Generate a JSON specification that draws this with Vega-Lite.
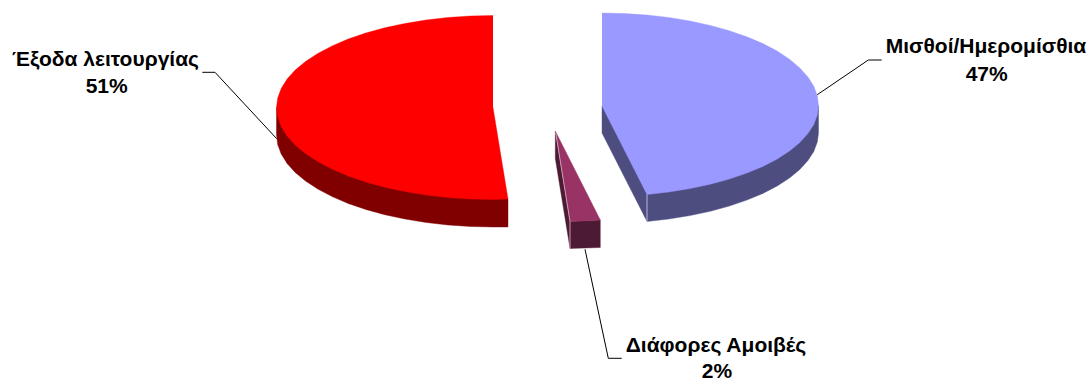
{
  "$schema": "https://vega.github.io/schema/vega-lite/v6.json",
  "autosize": {"type": "none"},
  "width": 1090,
  "height": 380,
  "padding": 0,
  "background": "white",
  "config": {"view": {"stroke": null}},
  "datasets": {
    "outlines": [
      {"part":"Έξοδα side","face":"Έξοδα dark","i":1,"x":276.5,"y":107.5},{"part":"Έξοδα side","face":"Έξοδα dark","i":2,"x":276.5,"y":135},{"part":"Έξοδα side","face":"Έξοδα dark","i":3,"x":277.7,"y":144.6},{"part":"Έξοδα side","face":"Έξοδα dark","i":4,"x":281.2,"y":154.1},{"part":"Έξοδα side","face":"Έξοδα dark","i":5,"x":287.1,"y":163.4},{"part":"Έξοδα side","face":"Έξοδα dark","i":6,"x":295.2,"y":172.4},{"part":"Έξοδα side","face":"Έξοδα dark","i":7,"x":305.5,"y":181},{"part":"Έξοδα side","face":"Έξοδα dark","i":8,"x":317.8,"y":189.1},{"part":"Έξοδα side","face":"Έξοδα dark","i":9,"x":332.1,"y":196.6},{"part":"Έξοδα side","face":"Έξοδα dark","i":10,"x":348.1,"y":203.4},{"part":"Έξοδα side","face":"Έξοδα dark","i":11,"x":365.7,"y":209.4},{"part":"Έξοδα side","face":"Έξοδα dark","i":12,"x":384.75,"y":214.7},{"part":"Έξοδα side","face":"Έξοδα dark","i":13,"x":404.9,"y":219},{"part":"Έξοδα side","face":"Έξοδα dark","i":14,"x":426.1,"y":222.5},{"part":"Έξοδα side","face":"Έξοδα dark","i":15,"x":448,"y":225},{"part":"Έξοδα side","face":"Έξοδα dark","i":16,"x":470.4,"y":226.5},{"part":"Έξοδα side","face":"Έξοδα dark","i":17,"x":493,"y":227},{"part":"Έξοδα side","face":"Έξοδα dark","i":18,"x":508,"y":227},{"part":"Έξοδα side","face":"Έξοδα dark","i":19,"x":508,"y":199},

      {"part":"Μισθοί side","face":"Μισθοί dark","i":1,"x":818.5,"y":105.5},{"part":"Μισθοί side","face":"Μισθοί dark","i":2,"x":818.5,"y":133},{"part":"Μισθοί side","face":"Μισθοί dark","i":3,"x":817.3,"y":142},{"part":"Μισθοί side","face":"Μισθοί dark","i":4,"x":813.8,"y":151.4},{"part":"Μισθοί side","face":"Μισθοί dark","i":5,"x":807.9,"y":160.6},{"part":"Μισθοί side","face":"Μισθοί dark","i":6,"x":799.8,"y":169.5},{"part":"Μισθοί side","face":"Μισθοί dark","i":7,"x":789.5,"y":178},{"part":"Μισθοί side","face":"Μισθοί dark","i":8,"x":777.2,"y":186},{"part":"Μισθοί side","face":"Μισθοί dark","i":9,"x":762.9,"y":193.4},{"part":"Μισθοί side","face":"Μισθοί dark","i":10,"x":746.9,"y":200.1},{"part":"Μισθοί side","face":"Μισθοί dark","i":11,"x":729.3,"y":206.1},{"part":"Μισθοί side","face":"Μισθοί dark","i":12,"x":710.25,"y":211.3},{"part":"Μισθοί side","face":"Μισθοί dark","i":13,"x":690.1,"y":215.6},{"part":"Μισθοί side","face":"Μισθοί dark","i":14,"x":668.9,"y":219},{"part":"Μισθοί side","face":"Μισθοί dark","i":15,"x":647,"y":221.5},{"part":"Μισθοί side","face":"Μισθοί dark","i":16,"x":602,"y":133},{"part":"Μισθοί side","face":"Μισθοί dark","i":17,"x":602,"y":106},

      {"part":"Διάφορες left","face":"Διάφορες dark","i":1,"x":555.3,"y":131},{"part":"Διάφορες left","face":"Διάφορες dark","i":2,"x":555.3,"y":158.5},{"part":"Διάφορες left","face":"Διάφορες dark","i":3,"x":570,"y":248.5},{"part":"Διάφορες left","face":"Διάφορες dark","i":4,"x":600.3,"y":247.5},{"part":"Διάφορες left","face":"Διάφορες dark","i":5,"x":600.3,"y":220},{"part":"Διάφορες left","face":"Διάφορες dark","i":6,"x":570,"y":221.5},

      {"part":"Έξοδα top","face":"Έξοδα","i":1,"x":493,"y":15.5},{"part":"Έξοδα top","face":"Έξοδα","i":2,"x":470.4,"y":16},{"part":"Έξοδα top","face":"Έξοδα","i":3,"x":448,"y":17.5},{"part":"Έξοδα top","face":"Έξοδα","i":4,"x":426.1,"y":20},{"part":"Έξοδα top","face":"Έξοδα","i":5,"x":404.9,"y":23.5},{"part":"Έξοδα top","face":"Έξοδα","i":6,"x":384.75,"y":27.8},{"part":"Έξοδα top","face":"Έξοδα","i":7,"x":365.7,"y":33.1},{"part":"Έξοδα top","face":"Έξοδα","i":8,"x":348.1,"y":39.1},{"part":"Έξοδα top","face":"Έξοδα","i":9,"x":332.1,"y":45.9},{"part":"Έξοδα top","face":"Έξοδα","i":10,"x":317.8,"y":53.4},{"part":"Έξοδα top","face":"Έξοδα","i":11,"x":305.5,"y":61.5},{"part":"Έξοδα top","face":"Έξοδα","i":12,"x":295.2,"y":70.1},{"part":"Έξοδα top","face":"Έξοδα","i":13,"x":287.1,"y":79.1},{"part":"Έξοδα top","face":"Έξοδα","i":14,"x":281.2,"y":88.4},{"part":"Έξοδα top","face":"Έξοδα","i":15,"x":277.7,"y":97.9},{"part":"Έξοδα top","face":"Έξοδα","i":16,"x":276.5,"y":107.5},{"part":"Έξοδα top","face":"Έξοδα","i":17,"x":277.7,"y":117.1},{"part":"Έξοδα top","face":"Έξοδα","i":18,"x":281.2,"y":126.6},{"part":"Έξοδα top","face":"Έξοδα","i":19,"x":287.1,"y":135.9},{"part":"Έξοδα top","face":"Έξοδα","i":20,"x":295.2,"y":144.9},{"part":"Έξοδα top","face":"Έξοδα","i":21,"x":305.5,"y":153.5},{"part":"Έξοδα top","face":"Έξοδα","i":22,"x":317.8,"y":161.6},{"part":"Έξοδα top","face":"Έξοδα","i":23,"x":332.1,"y":169.1},{"part":"Έξοδα top","face":"Έξοδα","i":24,"x":348.1,"y":175.9},{"part":"Έξοδα top","face":"Έξοδα","i":25,"x":365.7,"y":181.9},{"part":"Έξοδα top","face":"Έξοδα","i":26,"x":384.75,"y":187.2},{"part":"Έξοδα top","face":"Έξοδα","i":27,"x":404.9,"y":191.5},{"part":"Έξοδα top","face":"Έξοδα","i":28,"x":426.1,"y":195},{"part":"Έξοδα top","face":"Έξοδα","i":29,"x":448,"y":197.5},{"part":"Έξοδα top","face":"Έξοδα","i":30,"x":470.4,"y":199},{"part":"Έξοδα top","face":"Έξοδα","i":31,"x":493,"y":199.5},{"part":"Έξοδα top","face":"Έξοδα","i":32,"x":508,"y":199},{"part":"Έξοδα top","face":"Έξοδα","i":33,"x":493,"y":107.5},

      {"part":"Μισθοί top","face":"Μισθοί","i":1,"x":602,"y":13},{"part":"Μισθοί top","face":"Μισθοί","i":2,"x":624.6,"y":13.5},{"part":"Μισθοί top","face":"Μισθοί","i":3,"x":647,"y":15},{"part":"Μισθοί top","face":"Μισθοί","i":4,"x":668.9,"y":17.5},{"part":"Μισθοί top","face":"Μισθοί","i":5,"x":690.1,"y":21},{"part":"Μισθοί top","face":"Μισθοί","i":6,"x":710.25,"y":25.4},{"part":"Μισθοί top","face":"Μισθοί","i":7,"x":729.3,"y":30.7},{"part":"Μισθοί top","face":"Μισθοί","i":8,"x":746.9,"y":36.8},{"part":"Μισθοί top","face":"Μισθοί","i":9,"x":762.9,"y":43.6},{"part":"Μισθοί top","face":"Μισθοί","i":10,"x":777.2,"y":51.1},{"part":"Μισθοί top","face":"Μισθοί","i":11,"x":789.5,"y":59.25},{"part":"Μισθοί top","face":"Μισθοί","i":12,"x":799.8,"y":67.9},{"part":"Μισθοί top","face":"Μισθοί","i":13,"x":807.9,"y":76.9},{"part":"Μισθοί top","face":"Μισθοί","i":14,"x":813.8,"y":86.3},{"part":"Μισθοί top","face":"Μισθοί","i":15,"x":817.3,"y":95.8},{"part":"Μισθοί top","face":"Μισθοί","i":16,"x":818.5,"y":105.5},{"part":"Μισθοί top","face":"Μισθοί","i":17,"x":817.3,"y":115},{"part":"Μισθοί top","face":"Μισθοί","i":18,"x":813.8,"y":124.4},{"part":"Μισθοί top","face":"Μισθοί","i":19,"x":807.9,"y":133.6},{"part":"Μισθοί top","face":"Μισθοί","i":20,"x":799.8,"y":142.5},{"part":"Μισθοί top","face":"Μισθοί","i":21,"x":789.5,"y":151},{"part":"Μισθοί top","face":"Μισθοί","i":22,"x":777.2,"y":159},{"part":"Μισθοί top","face":"Μισθοί","i":23,"x":762.9,"y":166.4},{"part":"Μισθοί top","face":"Μισθοί","i":24,"x":746.9,"y":173.1},{"part":"Μισθοί top","face":"Μισθοί","i":25,"x":729.3,"y":179.1},{"part":"Μισθοί top","face":"Μισθοί","i":26,"x":710.25,"y":184.3},{"part":"Μισθοί top","face":"Μισθοί","i":27,"x":690.1,"y":188.6},{"part":"Μισθοί top","face":"Μισθοί","i":28,"x":668.9,"y":192},{"part":"Μισθοί top","face":"Μισθοί","i":29,"x":647,"y":194.5},{"part":"Μισθοί top","face":"Μισθοί","i":30,"x":602,"y":106},

      {"part":"Διάφορες top","face":"Διάφορες","i":1,"x":555.3,"y":131},{"part":"Διάφορες top","face":"Διάφορες","i":2,"x":600.3,"y":220},{"part":"Διάφορες top","face":"Διάφορες","i":3,"x":585,"y":221},{"part":"Διάφορες top","face":"Διάφορες","i":4,"x":570,"y":221.5}
    ],
    "edges": [
      {"edge":"Μισθοί highlight","tone":"blue","i":1,"x":647,"y":194.5},{"edge":"Μισθοί highlight","tone":"blue","i":2,"x":647,"y":221.5},
      {"edge":"Διάφορες highlight","tone":"plum","i":1,"x":555.8,"y":133},{"edge":"Διάφορες highlight","tone":"plum","i":2,"x":570,"y":221.5},{"edge":"Διάφορες highlight","tone":"plum","i":3,"x":570,"y":248.5}
    ],
    "leaders": [
      {"slice":"Έξοδα λειτουργίας","i":1,"x":202.3,"y":72.3},{"slice":"Έξοδα λειτουργίας","i":2,"x":215,"y":72.3},{"slice":"Έξοδα λειτουργίας","i":3,"x":276.7,"y":138.7},
      {"slice":"Μισθοί/Ημερομίσθια","i":1,"x":881.7,"y":60},{"slice":"Μισθοί/Ημερομίσθια","i":2,"x":868.3,"y":60},{"slice":"Μισθοί/Ημερομίσθια","i":3,"x":817.3,"y":94.7},
      {"slice":"Διάφορες Αμοιβές","i":1,"x":585,"y":249.3},{"slice":"Διάφορες Αμοιβές","i":2,"x":608.3,"y":358.3},{"slice":"Διάφορες Αμοιβές","i":3,"x":621.7,"y":358.3}
    ],
    "labels": [
      {"text":"Έξοδα λειτουργίας","x":105.5,"y":66},
      {"text":"51%","x":106.7,"y":93},
      {"text":"Μισθοί/Ημερομίσθια","x":986,"y":52.5},
      {"text":"47%","x":986.7,"y":81},
      {"text":"Διάφορες Αμοιβές","x":716,"y":351.5},
      {"text":"2%","x":717,"y":378}
    ]
  },
  "encoding": {
    "x": {"field": "x", "type": "quantitative", "scale": {"domain": [0, 1090], "nice": false, "zero": false}, "axis": null},
    "y": {"field": "y", "type": "quantitative", "scale": {"domain": [380, 0], "nice": false, "zero": false}, "axis": null}
  },
  "layer": [
    {
      "data": {"name": "outlines"},
      "transform": [{"filter": "indexof(datum.part, 'top') < 0"}],
      "mark": {"type": "line", "filled": true, "strokeWidth": 0.4},
      "encoding": {
        "order": {"field": "i", "type": "quantitative"},
        "detail": {"field": "part"},
        "fill": {"field": "face", "type": "nominal", "legend": null,
          "scale": {"domain": ["Έξοδα", "Μισθοί", "Διάφορες", "Έξοδα dark", "Μισθοί dark", "Διάφορες dark"], "range": ["#FF0000", "#9999FF", "#993366", "#800000", "#4D4D80", "#4D1A33"]}},
        "stroke": {"field": "face", "type": "nominal", "legend": null,
          "scale": {"domain": ["Έξοδα", "Μισθοί", "Διάφορες", "Έξοδα dark", "Μισθοί dark", "Διάφορες dark"], "range": ["#FF0000", "#9999FF", "#993366", "#800000", "#4D4D80", "#4D1A33"]}}
      }
    },
    {
      "data": {"name": "outlines"},
      "transform": [{"filter": "indexof(datum.part, 'top') >= 0"}],
      "mark": {"type": "line", "filled": true, "strokeWidth": 0.4},
      "encoding": {
        "order": {"field": "i", "type": "quantitative"},
        "detail": {"field": "part"},
        "fill": {"field": "face", "type": "nominal", "legend": null,
          "scale": {"domain": ["Έξοδα", "Μισθοί", "Διάφορες", "Έξοδα dark", "Μισθοί dark", "Διάφορες dark"], "range": ["#FF0000", "#9999FF", "#993366", "#800000", "#4D4D80", "#4D1A33"]}},
        "stroke": {"field": "face", "type": "nominal", "legend": null,
          "scale": {"domain": ["Έξοδα", "Μισθοί", "Διάφορες", "Έξοδα dark", "Μισθοί dark", "Διάφορες dark"], "range": ["#FF0000", "#9999FF", "#993366", "#800000", "#4D4D80", "#4D1A33"]}}
      }
    },
    {
      "data": {"name": "edges"},
      "mark": {"type": "line", "strokeWidth": 1},
      "encoding": {
        "order": {"field": "i", "type": "quantitative"},
        "detail": {"field": "edge"},
        "color": {"field": "tone", "type": "nominal", "legend": null,
          "scale": {"domain": ["blue", "plum"], "range": ["#B8B8DC", "#C79AB0"]}}
      }
    },
    {
      "data": {"name": "leaders"},
      "mark": {"type": "line", "color": "#000000", "strokeWidth": 1},
      "encoding": {
        "order": {"field": "i", "type": "quantitative"},
        "detail": {"field": "slice"}
      }
    },
    {
      "data": {"name": "labels"},
      "mark": {"type": "text", "font": "Liberation Sans", "fontWeight": "bold", "fontSize": 21, "align": "center", "baseline": "alphabetic", "color": "#000000"},
      "encoding": {"text": {"field": "text"}}
    }
  ]
}
